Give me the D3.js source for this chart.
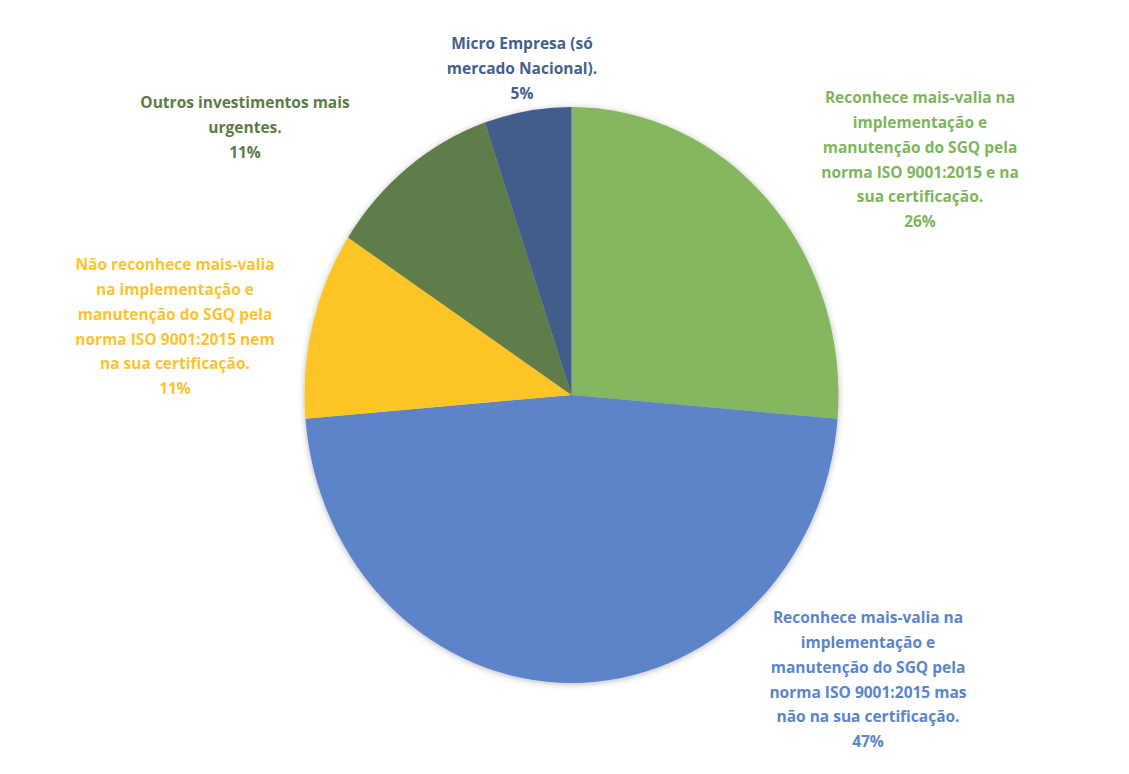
<!DOCTYPE html>
<html>
<head>
<meta charset="utf-8">
<script src="https://cdn.jsdelivr.net/npm/d3@7"></script>
<style>
  html, body { margin: 0; padding: 0; background: #ffffff; }
  svg { display: block; }
  .lbl { font-family: "Open Sans", "Noto Sans", sans-serif; font-weight: 700; }
</style>
</head>
<body>
<svg id="chart" width="1129" height="774"></svg>
<script>
// Survey answers: number of respondents per reason (19 in total)
const categories = [
  "Reconhece mais-valia na implementação e manutenção do SGQ pela norma ISO 9001:2015 e na sua certificação.",
  "Reconhece mais-valia na implementação e manutenção do SGQ pela norma ISO 9001:2015 mas não na sua certificação.",
  "Não reconhece mais-valia na implementação e manutenção do SGQ pela norma ISO 9001:2015 nem na sua certificação.",
  "Outros investimentos mais urgentes.",
  "Micro Empresa (só mercado Nacional)."
];
const counts = [5, 9, 2, 2, 1];

// Line breaks used for each data label
const labelLines = [
  ["Reconhece mais-valia na", "implementação e", "manutenção do SGQ pela", "norma ISO 9001:2015 e na", "sua certificação."],
  ["Reconhece mais-valia na", "implementação e", "manutenção do SGQ pela", "norma ISO 9001:2015 mas", "não na sua certificação."],
  ["Não reconhece mais-valia", "na implementação e", "manutenção do SGQ pela", "norma ISO 9001:2015 nem", "na sua certificação."],
  ["Outros investimentos mais", "urgentes."],
  ["Micro Empresa (só", "mercado Nacional)."]
];

const sliceColors = ["#85b761", "#5d84c9", "#fdc428", "#5e7d48", "#435d8b"];
const textColors  = ["#7db55b", "#5a85cc", "#fcc32c", "#5b7c45", "#44608f"];

// Layout: pie centre/radii and label block anchors (centre x, first line y)
const cx = 571.5, cy = 395, rx = 267, ry = 288;
const labelAnchor = [[920, 98], [868, 618], [175, 265], [245, 103], [522, 44]];
const lineGap = 24.7;

const svg = d3.select("#chart");
const defs = svg.append("defs");
const f = defs.append("filter").attr("id", "shadow")
  .attr("x", "-10%").attr("y", "-10%").attr("width", "120%").attr("height", "120%");
f.append("feDropShadow").attr("dx", 0).attr("dy", 1).attr("stdDeviation", 3)
  .attr("flood-color", "#000").attr("flood-opacity", 0.28);

const total = d3.sum(counts);
const pie = d3.pie().sort(null).value(d => d);
const arcs = pie(counts);
const arc = d3.arc().innerRadius(0).outerRadius(rx);

const g = svg.append("g")
  .attr("transform", `translate(${cx},${cy}) scale(1,${ry / rx})`)
  .attr("filter", "url(#shadow)");

g.selectAll("path")
  .data(arcs)
  .join("path")
  .attr("d", arc)
  .attr("fill", (d, i) => sliceColors[i]);

const fmt = v => Math.round(v / total * 100) + "%";

const labels = svg.append("g").selectAll("text")
  .data(arcs)
  .join("text")
  .attr("class", "lbl")
  .attr("text-anchor", "middle")
  .attr("font-size", 15.5)
  .attr("fill", (d, i) => textColors[i])
  .attr("x", (d, i) => labelAnchor[i][0])
  .attr("y", (d, i) => labelAnchor[i][1]);

labels.each(function (d, i) {
  const t = d3.select(this);
  const lines = labelLines[i].concat([fmt(d.value)]);
  lines.forEach((ln, k) => {
    t.append("tspan")
      .attr("x", labelAnchor[i][0])
      .attr("y", labelAnchor[i][1] + k * lineGap)
      .attr("dy", "0.35em")
      .text(ln);
  });
});
</script>
</body>
</html>
